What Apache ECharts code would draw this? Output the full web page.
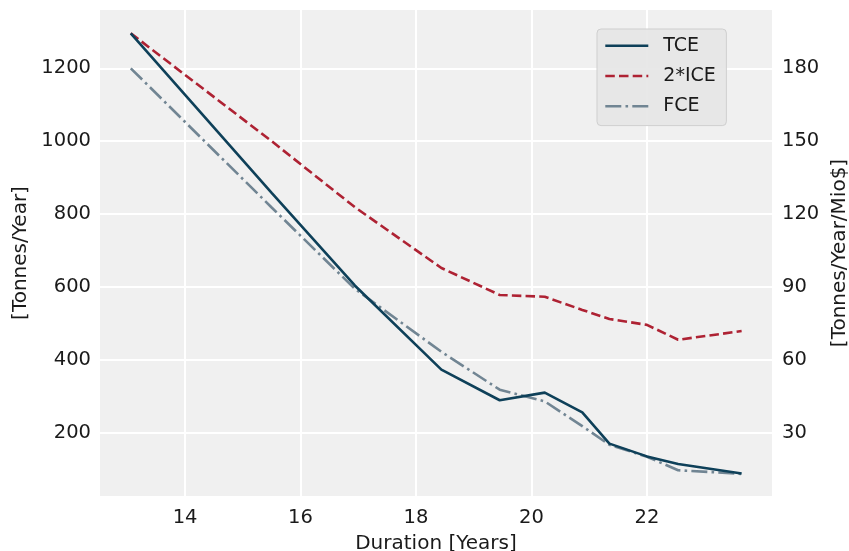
<!DOCTYPE html>
<html>
<head>
<meta charset="utf-8">
<script src="https://cdn.jsdelivr.net/npm/echarts@6/dist/echarts.min.js"></script>
<style>
  html, body { margin: 0; padding: 0; background: #ffffff; }
  #chart { width: 849px; height: 551px; }
</style>
</head>
<body>
<div id="chart"></div>
<script>
// durations [years]
const durations = [13.06, 15.5, 16.94, 18.44, 19.45, 20.23, 20.88, 21.35, 22.0, 22.54, 23.64]
const tce = [1296, 858, 604, 373, 289, 310, 256, 170, 135, 114, 88]
const ice2 = [1296, 1000, 819, 652, 578, 573, 537, 512, 496, 455, 479]
const fce = [1200, 818, 595, 422, 318, 286, 218, 167, 134, 97, 87]

const xTicks = [14, 16, 18, 20, 22]
const leftTicks = [200, 400, 600, 800, 1000, 1200]
const rightTicks = [30, 60, 90, 120, 150, 180]

const Y_MIN = 26.3
const Y_MAX = 1360
const RIGHT_SCALE = 0.15 // right axis = left axis * 0.15

const pairs = ys => durations.map((x, i) => [x, ys[i]])

const FONT = 'DejaVu Sans'
const TXT = '#1a1a1a'
const TICK_SIZE = 19.5
const NAME_SIZE = 20

const chart = echarts.init(document.getElementById('chart'), null, { renderer: 'canvas' })

const option = {
  animation: false,
  textStyle: { fontFamily: FONT },
  grid: {
    left: 100, right: 77, top: 10, bottom: 55,
    outerBoundsMode: 'none', containLabel: false,
    backgroundColor: '#f0f0f0', show: true, borderWidth: 0
  },
  legend: {
    orient: 'vertical',
    left: 597,
    top: 29,
    padding: [6.7, 10.6, 9.3, 7],
    itemWidth: 43,
    itemHeight: 20,
    itemGap: 10.3,
    backgroundColor: 'rgba(229,229,229,0.9)',
    borderColor: '#cfcfcf',
    borderWidth: 1,
    borderRadius: 4,
    itemStyle: { opacity: 0 },
    lineStyle: { width: 2.6 },
    textStyle: { fontFamily: FONT, fontSize: 19, color: TXT, padding: [0, 0, 0, 10], lineHeight: 20 },
    data: ['TCE', '2*ICE', 'FCE']
  },
  xAxis: {
    type: 'value',
    min: 12.527,
    max: 24.166,
    name: 'Duration [Years]',
    nameLocation: 'middle',
    nameGap: 38,
    nameTextStyle: { fontFamily: FONT, fontSize: NAME_SIZE, color: TXT },
    axisLine: { show: false },
    axisTick: { show: false, customValues: xTicks },
    axisLabel: { customValues: xTicks, margin: 12, fontFamily: FONT, fontSize: TICK_SIZE, color: TXT },
    splitLine: { show: true, lineStyle: { color: '#ffffff', width: 2 } }
  },
  yAxis: [
    {
      type: 'value',
      min: Y_MIN,
      max: Y_MAX,
      name: '[Tonnes/Year]',
      nameLocation: 'middle',
      nameGap: 66,
      nameTextStyle: { fontFamily: FONT, fontSize: NAME_SIZE, color: TXT },
      axisLine: { show: false },
      axisTick: { show: false, customValues: leftTicks },
      axisLabel: { customValues: leftTicks, formatter: v => String(v), margin: 9, fontFamily: FONT, fontSize: TICK_SIZE, color: TXT },
      splitLine: { show: true, lineStyle: { color: '#ffffff', width: 2 } }
    },
    {
      type: 'value',
      min: Y_MIN * RIGHT_SCALE,
      max: Y_MAX * RIGHT_SCALE,
      name: '[Tonnes/Year/Mio$]',
      nameLocation: 'middle',
      nameGap: 54,
      nameTextStyle: { fontFamily: FONT, fontSize: NAME_SIZE, color: TXT },
      axisLine: { show: false },
      axisTick: { show: false, customValues: rightTicks },
      axisLabel: { customValues: rightTicks, formatter: v => String(v), margin: 10, fontFamily: FONT, fontSize: TICK_SIZE, color: TXT },
      splitLine: { show: false }
    }
  ],
  series: [
    {
      name: 'TCE',
      type: 'line',
      data: pairs(tce),
      symbol: 'none',
      z: 3,
      lineStyle: { color: '#0e4059', width: 2.6 },
      itemStyle: { color: '#0e4059' }
    },
    {
      name: '2*ICE',
      type: 'line',
      data: pairs(ice2),
      symbol: 'none',
      z: 2,
      lineStyle: { color: '#ae2233', width: 2.6, type: [9.5, 4.2] },
      itemStyle: { color: '#ae2233' }
    },
    {
      name: 'FCE',
      type: 'line',
      data: pairs(fce),
      symbol: 'none',
      z: 2,
      lineStyle: { color: '#718593', width: 2.6, type: [16, 4.2, 2.6, 4.2] },
      itemStyle: { color: '#718593' }
    }
  ]
}

chart.setOption(option)
</script>
</body>
</html>
